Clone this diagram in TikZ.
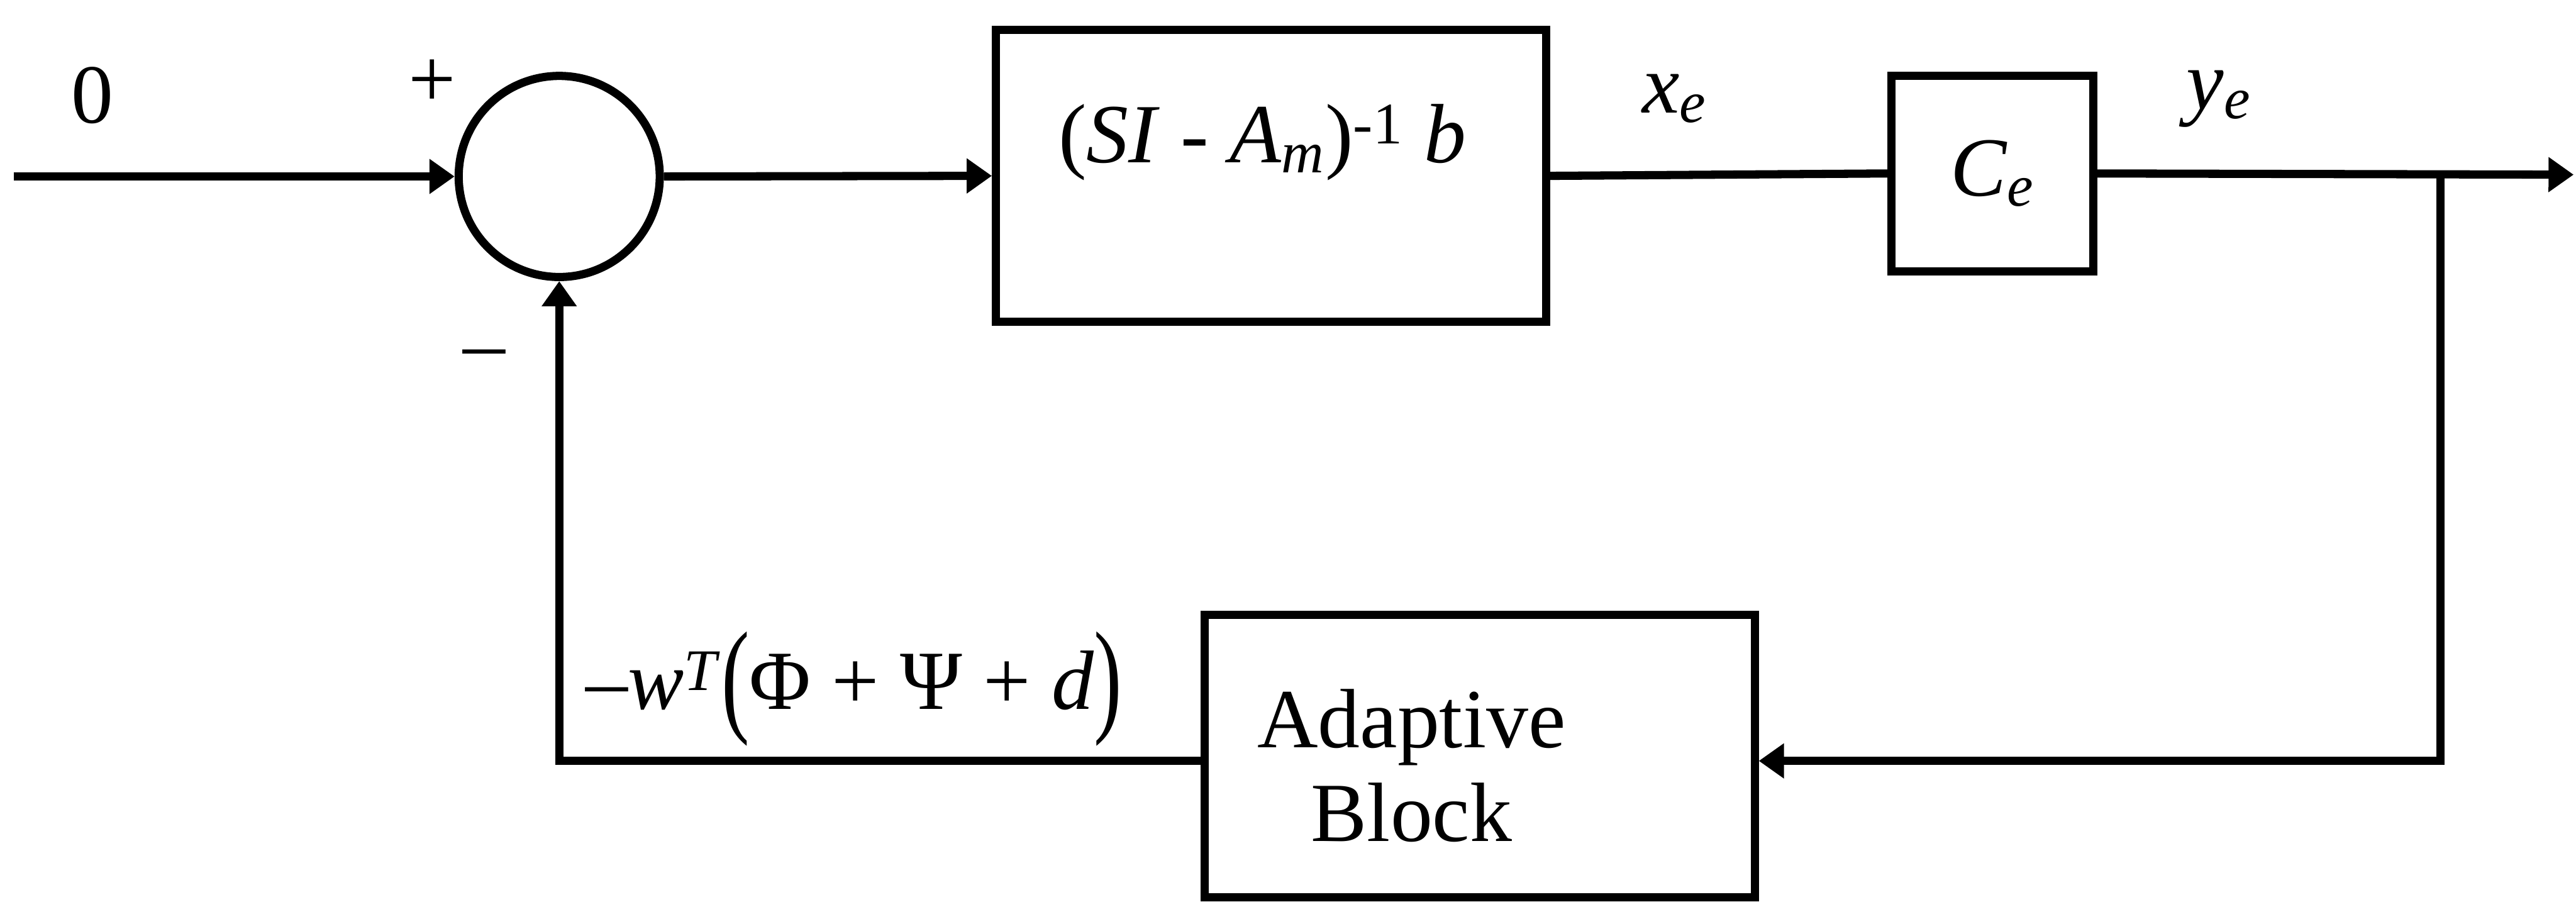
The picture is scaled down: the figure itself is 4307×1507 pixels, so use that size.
\documentclass[tikz,border=0pt]{standalone}
\usepackage{fontspec}
\setmainfont{Liberation Serif}
\usepackage{graphicx}
\usetikzlibrary{arrows.meta}
\begin{document}
\begin{tikzpicture}[x=0.01cm,y=-0.01cm, line width=3.9pt,
  every node/.style={font=\fontsize{40}{44.6}\selectfont},
  blk/.style={draw, rectangle, inner sep=0pt},
  sumc/.style={draw, circle, minimum size=3.36cm, inner sep=0pt},
  arr/.style={-{Triangle[length=0.42cm,width=0.56cm]}},
  lbl/.style={inner sep=0pt}]
\useasboundingbox (0,0) rectangle (4307,1507);

\node[sumc] (sum) at (935,295) {};
\node[blk, minimum width=9.19cm, minimum height=4.88cm] (plant) at (2125,294) {};
\node[blk, minimum width=3.37cm, minimum height=3.27cm] (C) at (3331,290) {\textit{C}\textsubscript{\textit{e}}};
\node[blk, minimum width=9.19cm, minimum height=4.72cm] (adapt) at (2474,1264) {};

\coordinate (in) at (23,295);
\coordinate (out) at (4303,292);
\coordinate (br) at (4080,292);
\coordinate (brb) at (4080,1272);
\coordinate (fb) at (935,1272);

\draw[arr] (in) -- (sum.west);
\draw[arr] (sum.east) -- (plant.west);
\draw (plant.east) -- (C.west);
\draw[arr] (C.east) -- (out);
\draw[arr] (br) -- (brb) -- (adapt.east |- brb);
\draw[arr] (adapt.west |- fb) -- (fb) -- (sum.south);

\node[lbl] (l0) at (155,160) {0};
\node[lbl] (lp) at (723,140) {+};
\node[lbl] (lm) at (810,603) {–};
\node[lbl, anchor=base west] (lplant) at (1763,272) {(\textit{SI} - \textit{A}\textsubscript{\textit{m}})\textsuperscript{-1} \textit{b}};
\node[lbl] (lx) at (2800,165) {\textit{x}\textsubscript{\textit{e}}};
\node[lbl] (ly) at (3710,165) {\textit{y}\textsubscript{\textit{e}}};
\node[lbl, align=center] (ladapt) at (2360,1280) {Adaptive\\Block};
\node[lbl] (lw) at (1428,1152) {–\textit{w}\textsuperscript{\textit{T}}\raisebox{-0.12em}{\scalebox{1}[1.5]{(}}Φ + Ψ + \textit{d}\raisebox{-0.12em}{\scalebox{1}[1.5]{)}}};
\end{tikzpicture}
\end{document}
